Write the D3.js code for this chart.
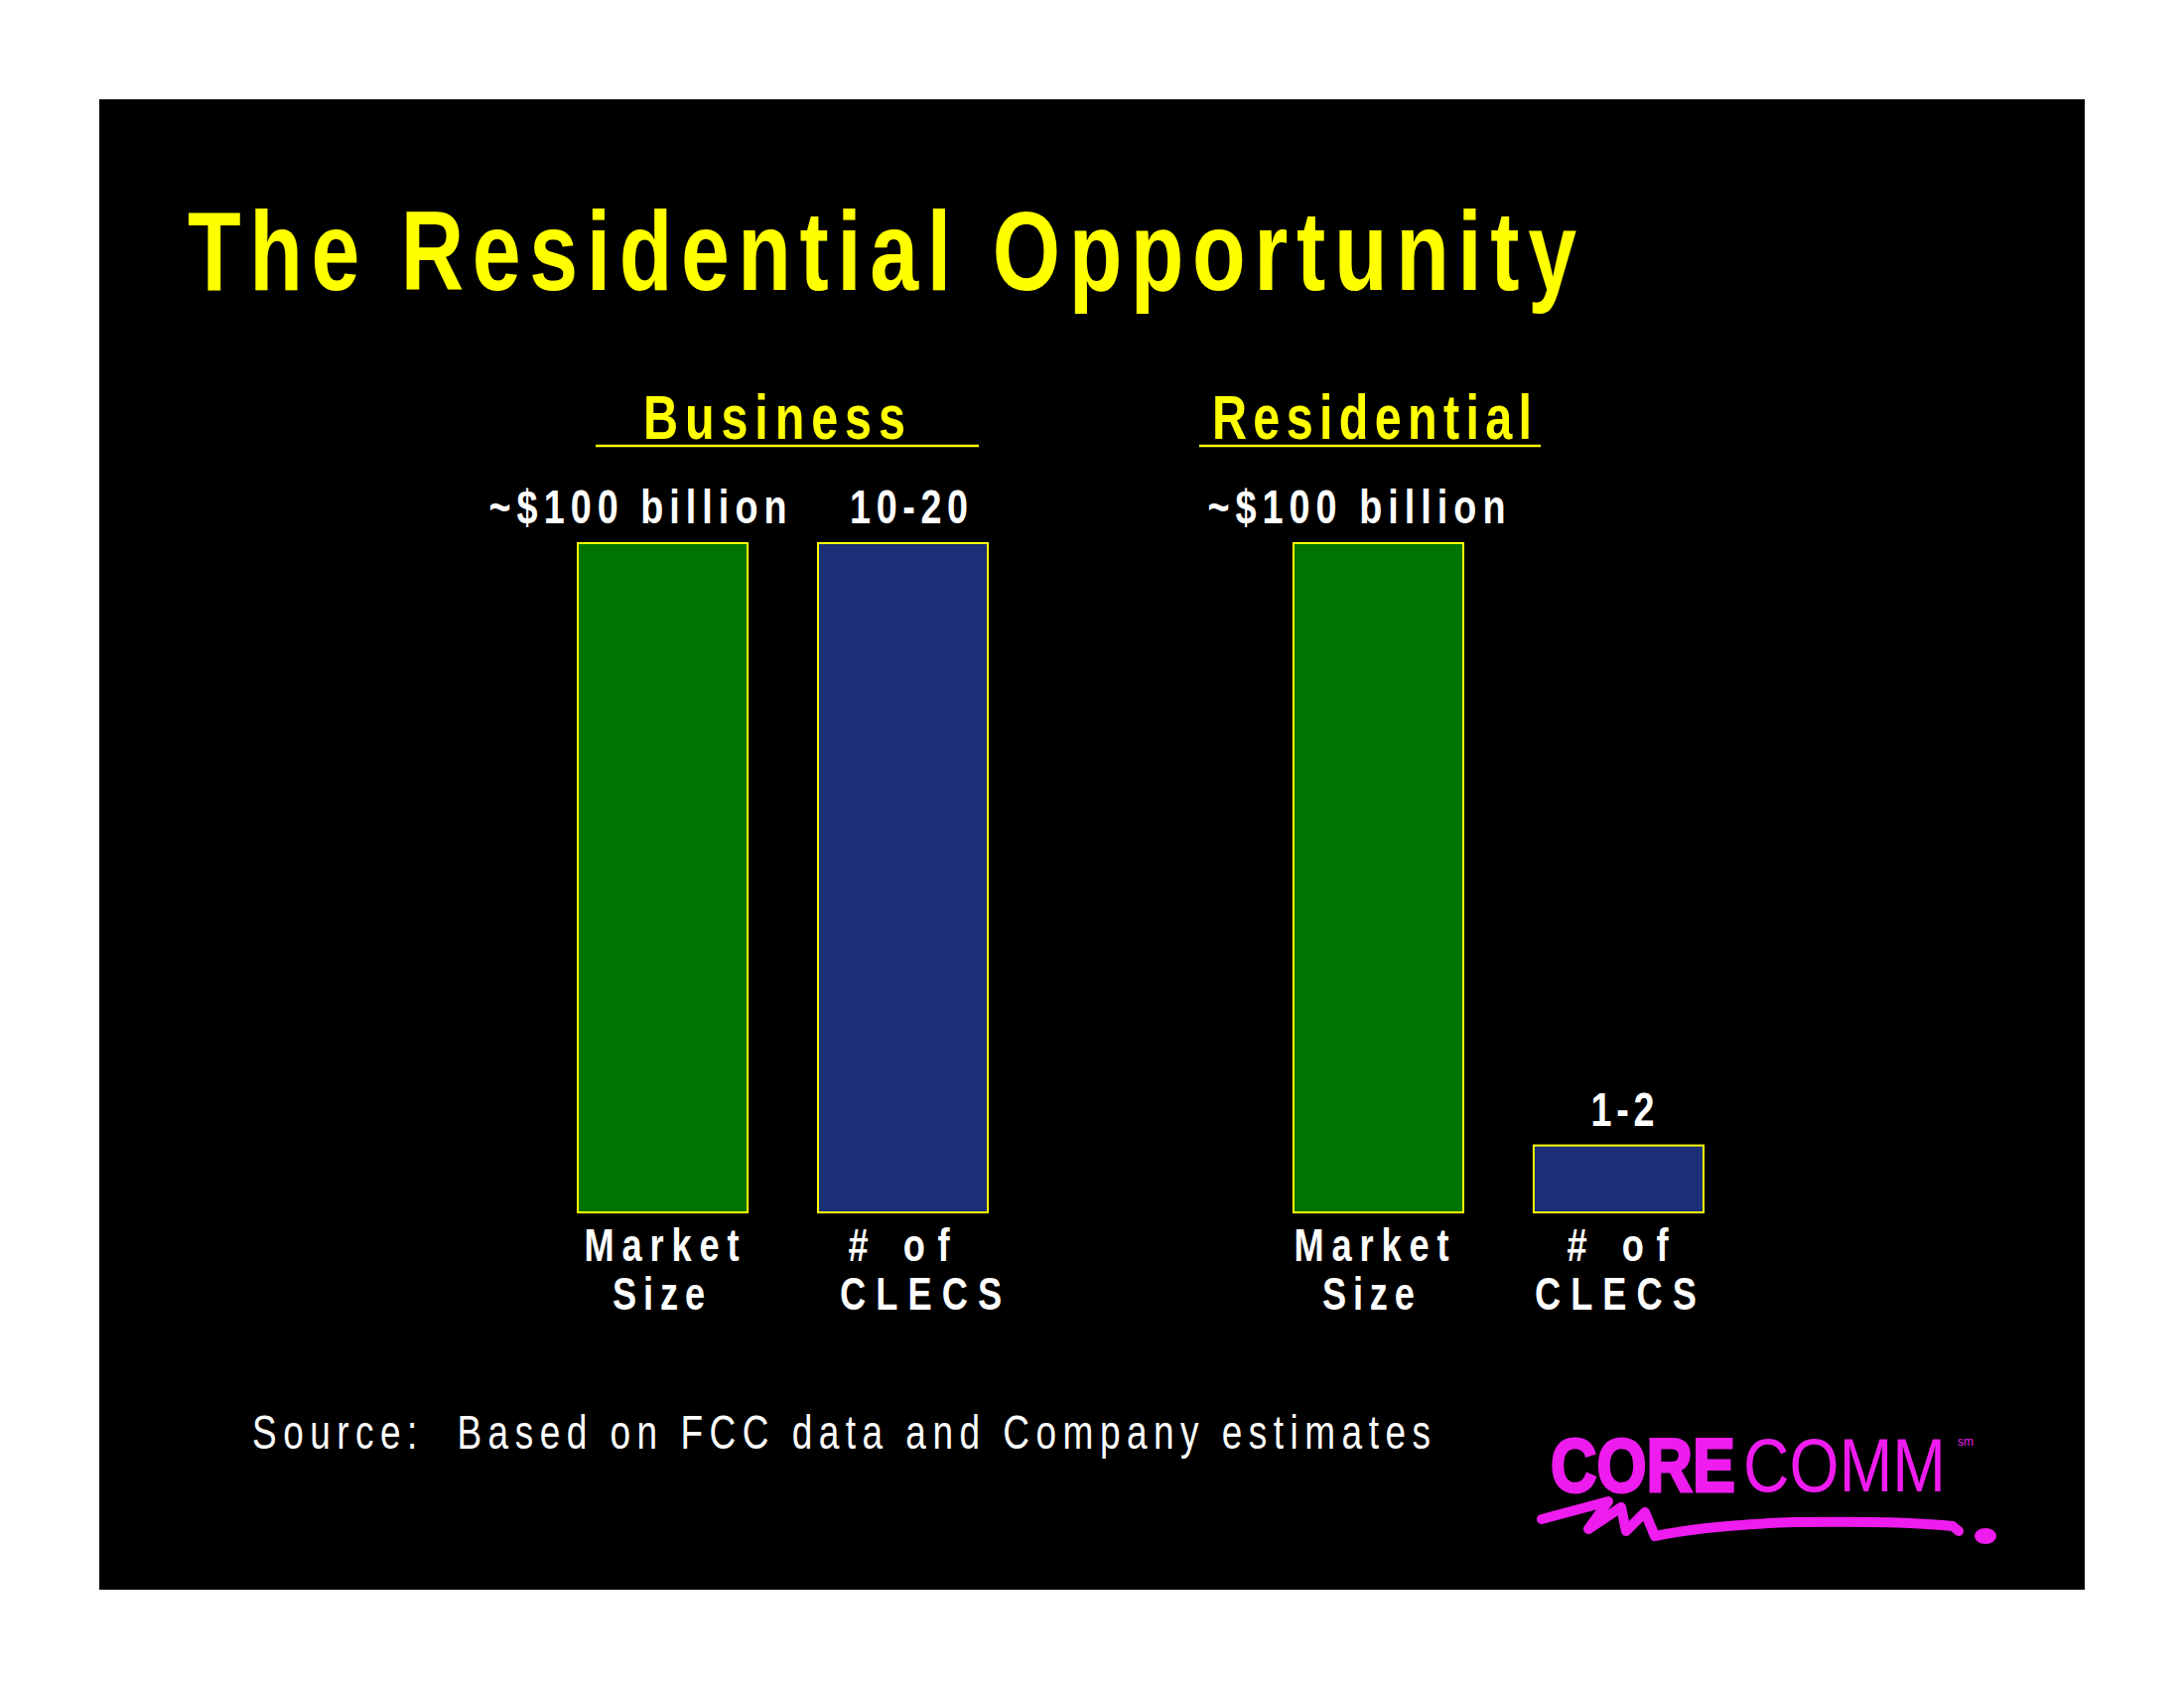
<!DOCTYPE html>
<html>
<head>
<meta charset="utf-8">
<script src="https://cdn.jsdelivr.net/npm/d3@7"></script>
<style>
  html, body { margin: 0; padding: 0; background: #ffffff; }
  svg { display: block; }
</style>
</head>
<body>
<svg id="chart" width="2200" height="1700"></svg>
<script>
// ---------------- data ----------------
const title = "The Residential Opportunity";
const groups = ["Business", "Residential"];
const metrics = ["market", "clecs"];
const metricLabels = [["Market", "Size"], ["# of", "CLECS"]];
const marketSize = [100, 100];       // ~$ billions
const clecCount = [15, 1.5];         // midpoints of 10-20 and 1-2
const valueLabels = [["~$100 billion", "10-20"], ["~$100 billion", "1-2"]];
const sourceNote = "Source:  Based on FCC data and Company estimates";

// ---------------- drawing ----------------
const svg = d3.select("#chart");
const FONT = "'Liberation Sans', Arial, sans-serif";
const GREEN = "#007400", BLUE = "#1a2f77", YELLOW = "#ffff00", MAGENTA = "#ee1cee";
const SQ = 0.77;

// narrow-style text: glyphs squeezed horizontally, spacing fitted to a target width
function narrowText(parent, txt, x, y, o) {
  const sq = o.squeeze || SQ;
  const g = parent.append("g").attr("transform", `translate(${x},${y}) scale(${sq},1)`);
  return g.append("text").text(txt)
    .attr("x", 0).attr("y", 0)
    .style("white-space", "pre")
    .attr("font-family", FONT)
    .attr("font-weight", o.weight || "bold")
    .attr("font-size", o.size)
    .attr("fill", o.fill || "#fff")
    .attr("textLength", o.width / sq)
    .attr("lengthAdjust", "spacing");
}

// text scaled horizontally to an exact width (no textLength)
function scaledText(parent, txt, x, y, width, attrs) {
  const g = parent.append("g");
  const t = g.append("text").text(txt).attr("x", 0).attr("y", 0);
  Object.entries(attrs).forEach(([k, v]) => t.attr(k, v));
  const w = t.node().getComputedTextLength();
  g.attr("transform", `translate(${x},${y}) scale(${width / w},1)`);
  return t;
}

svg.append("rect").attr("x", 100).attr("y", 100).attr("width", 2000).attr("height", 1501).attr("fill", "#000");

narrowText(svg, title, 189, 292, { size: 114, fill: YELLOW, width: 1399 });

const x0 = d3.scaleBand().domain(groups).range([582, 1716]).paddingInner(0.427).paddingOuter(0);
const x1 = d3.scaleBand().domain(metrics).range([0, x0.bandwidth()]).paddingInner(0.293).paddingOuter(0);
const yMarket = d3.scaleLinear().domain([0, 100]).range([1221, 547]);
const yClec = d3.scaleLinear().domain([0, 15]).range([1221, 547]);

const rows = [];
groups.forEach((g, gi) => {
  rows.push({ g, gi, m: "market", mi: 0, v: marketSize[gi], y: yMarket, label: valueLabels[gi][0] });
  rows.push({ g, gi, m: "clecs", mi: 1, v: clecCount[gi], y: yClec, label: valueLabels[gi][1] });
});

// group headers (underlined)
const headerLayout = [
  { tx: 648, tw: 264, ux0: 600, ux1: 986 },
  { tx: 1221, tw: 322, ux0: 1208, ux1: 1552 }
];
groups.forEach((g, gi) => {
  const h = headerLayout[gi];
  narrowText(svg, g, h.tx, 442, { size: 63, fill: YELLOW, width: h.tw });
  svg.append("line")
    .attr("x1", h.ux0).attr("x2", h.ux1).attr("y1", 449).attr("y2", 449)
    .attr("stroke", YELLOW).attr("stroke-width", 2.5);
});

// bars
svg.append("g").selectAll("rect").data(rows).join("rect")
  .attr("x", d => x0(d.g) + x1(d.m))
  .attr("y", d => d.y(d.v))
  .attr("width", x1.bandwidth())
  .attr("height", d => d.y(0) - d.y(d.v))
  .attr("fill", d => d.m === "market" ? GREEN : BLUE)
  .attr("stroke", YELLOW).attr("stroke-width", 2);

// value labels
const valueWidths = { "~$100 billion": 300, "10-20": 119, "1-2": 64 };
const valueDx = [{ "~$100 billion": -25, "10-20": 6 }, { "~$100 billion": -22, "1-2": 4 }];
rows.forEach(d => {
  const cx = x0(d.g) + x1(d.m) + x1.bandwidth() / 2 + valueDx[d.gi][d.label];
  narrowText(svg, d.label, cx - valueWidths[d.label] / 2, d.y(d.v) - 20,
    { size: 49, width: valueWidths[d.label] });
});

// category labels
const catWidths = { "Market": 156, "Size": 93, "# of": 102, "CLECS": 163 };
const catDx = [
  { "Market": -1, "Size": -4, "# of": -4, "CLECS": 18 },
  { "Market": -7, "Size": -10, "# of": -1, "CLECS": -3 }
];
rows.forEach(d => {
  const cx = x0(d.g) + x1(d.m) + x1.bandwidth() / 2;
  metricLabels[d.mi].forEach((t, li) => {
    narrowText(svg, t, cx + catDx[d.gi][t] - catWidths[t] / 2, 1270 + li * 49,
      { size: 47, width: catWidths[t] });
  });
});

// source note
narrowText(svg, sourceNote, 254, 1459, { size: 48, weight: "normal", width: 1187 });

// logo
const logo = svg.append("g");
scaledText(logo, "CORE", 1562, 1502, 186, {
  "font-family": FONT, "font-weight": "900", "font-size": 76,
  "fill": MAGENTA, "stroke": MAGENTA, "stroke-width": 3
});
scaledText(logo, "COMM", 1756, 1502, 204, {
  "font-family": FONT, "font-weight": "normal", "font-size": 76, "fill": MAGENTA
});
logo.append("text").text("sm")
  .attr("x", 1972).attr("y", 1456)
  .attr("font-family", FONT).attr("font-size", 12)
  .attr("fill", MAGENTA);
logo.append("path")
  .attr("d", "M1553,1530 L1620,1512 L1600,1540 L1633,1518 L1638,1542 L1657,1523 L1667,1547 C1700,1540 1750,1535 1807,1533 C1880,1532 1940,1534 1967,1537 L1973,1542")
  .attr("fill", "none").attr("stroke", MAGENTA).attr("stroke-width", 10)
  .attr("stroke-linecap", "round").attr("stroke-linejoin", "round");
logo.append("ellipse").attr("cx", 2000).attr("cy", 1547).attr("rx", 11).attr("ry", 8).attr("fill", MAGENTA);
</script>
</body>
</html>
